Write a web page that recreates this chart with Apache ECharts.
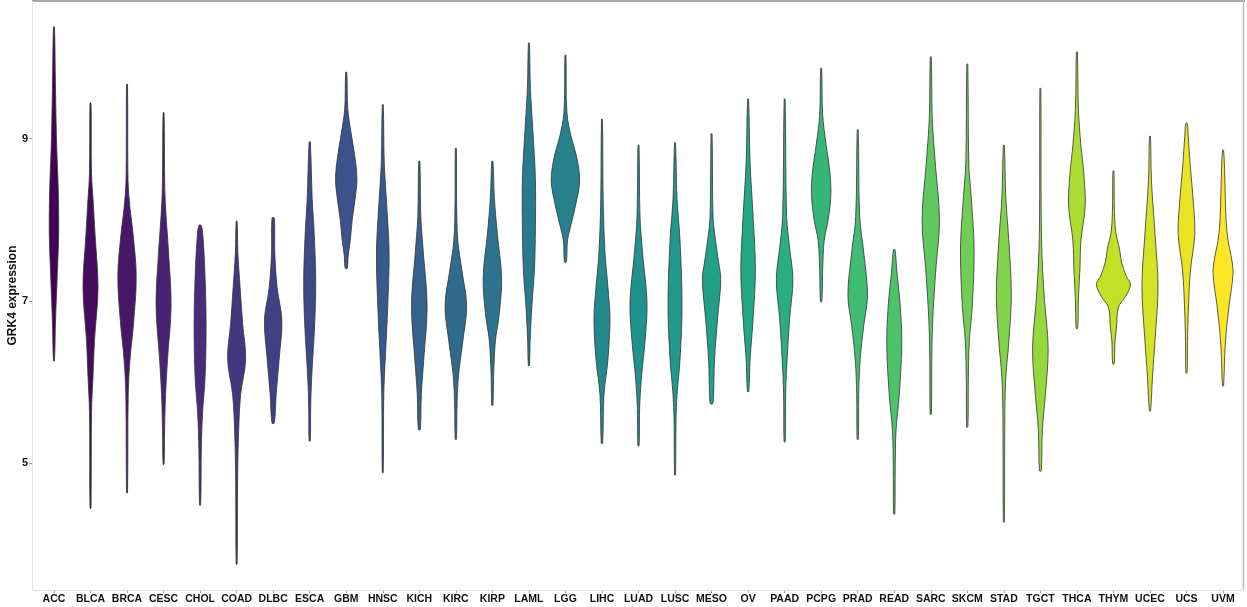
<!DOCTYPE html>
<html>
<head>
<meta charset="utf-8">
<script src="https://cdn.jsdelivr.net/npm/echarts@6/dist/echarts.min.js"></script>
<style>html,body{margin:0;padding:0;background:#fff}#c{width:1247px;height:607px}</style>
</head>
<body>
<div id="c"></div>
<script>
const categories = ['ACC','BLCA','BRCA','CESC','CHOL','COAD','DLBC','ESCA','GBM','HNSC','KICH','KIRC','KIRP','LAML','LGG','LIHC','LUAD','LUSC','MESO','OV','PAAD','PCPG','PRAD','READ','SARC','SKCM','STAD','TGCT','THCA','THYM','UCEC','UCS','UVM'];
const yTicks = [5, 7, 9];
// density profiles: [expression value, relative density (half-width)]
const profiles = [
  [[6.26,0.5],[6.73,1.5],[7.38,3.5],[7.83,4.7],[8.25,4.5],[8.48,4],[9.0,2.5],[9.8,1.3],[10.38,0.5]],
  [[4.44,0.5],[5.62,1],[6.06,2.5],[6.51,4],[7.16,7.5],[7.83,4.5],[8.26,2.5],[8.57,1],[9.44,0.5]],
  [[4.63,0.5],[5.84,1.2],[6.28,3],[6.72,6.5],[7.30,9.2],[7.83,6],[8.14,3],[8.48,1],[9.67,0.5]],
  [[4.98,0.5],[5.39,1],[5.84,2],[6.28,4],[6.94,7.5],[7.6,5],[8.05,2.5],[8.4,1.2],[9.32,0.5]],
  [[4.48,0.6],[5.17,1.2],[5.62,2.5],[6.06,5],[6.72,6],[7.38,4.7],[7.8,2.8],[7.93,1.2]],
  [[3.75,0.5],[4.83,1],[5.39,2],[5.84,4],[6.28,9],[6.72,6],[7.16,3.5],[7.6,1.2],[7.98,0.5]],
  [[5.49,1.2],[5.84,3],[6.28,6],[6.76,8.7],[7.16,4],[7.6,1.6],[8.02,1.2]],
  [[5.27,0.6],[5.7,1],[6.06,2],[6.72,5],[7.25,6],[7.83,4.5],[8.26,2.5],[8.96,0.6]],
  [[7.40,1],[7.56,2],[7.74,4],[8.0,6],[8.27,9],[8.51,10.7],[8.79,8.5],[9.06,5],[9.37,1.5],[9.82,0.6]],
  [[4.88,0.5],[5.84,1],[6.28,2.5],[6.94,5],[7.6,6.3],[8.17,4],[8.7,1.5],[9.42,0.5]],
  [[5.41,1],[5.84,2],[6.28,4.5],[6.94,7.8],[7.6,4],[8.04,1.5],[8.72,0.6]],
  [[5.29,0.6],[5.71,1.2],[6.06,2.5],[6.5,7],[6.94,10.8],[7.38,6],[7.74,2],[8.2,0.8],[8.88,0.5]],
  [[5.71,0.6],[6.06,1.2],[6.5,3],[6.85,7],[7.29,9.2],[7.82,5],[8.27,2],[8.72,0.6]],
  [[6.20,0.6],[6.5,1.2],[6.94,3],[7.38,5.5],[7.9,6.5],[8.5,6.5],[9.09,4],[9.62,1.5],[10.18,0.5]],
  [[7.48,1],[7.74,2],[7.91,5],[8.17,10],[8.48,14.2],[8.79,11],[9.01,6],[9.32,1.5],[10.03,0.5]],
  [[5.24,0.7],[5.84,2],[6.28,6],[6.78,8],[7.16,6],[7.6,3],[8.26,1.2],[9.24,0.5]],
  [[5.21,0.6],[5.71,1.2],[6.06,3],[6.5,6.5],[6.98,8.5],[7.6,4],[8.04,1.5],[8.92,0.5]],
  [[4.85,0.5],[5.53,1],[5.84,2],[6.28,5],[6.94,7],[7.74,5],[8.26,2],[8.95,0.5]],
  [[5.73,1.2],[5.84,2],[6.28,3],[6.78,6],[7.26,9.2],[7.48,7],[7.74,4],[8.04,1.5],[9.06,0.5]],
  [[5.88,0.7],[6.28,2],[6.78,5],[7.38,7.3],[8.04,5],[8.7,2],[9.49,0.5]],
  [[5.26,0.6],[5.84,1],[6.28,2.5],[6.78,5],[7.26,8.3],[7.65,5],[8.04,2],[9.49,0.5]],
  [[6.99,0.7],[7.38,1.5],[7.74,3],[8.0,7],[8.31,9.7],[8.61,8.5],[8.92,5],[9.30,1.5],[9.87,0.5]],
  [[5.29,0.6],[5.84,1],[6.28,2.5],[6.69,6],[7.07,9.8],[7.6,6],[8.04,2],[9.11,0.5]],
  [[4.37,0.6],[4.96,1],[5.40,1.8],[5.84,5],[6.46,7.5],[6.94,6],[7.38,2.5],[7.63,0.8]],
  [[5.60,0.6],[6.3,1],[6.78,2],[7.38,5],[8.0,8.7],[8.7,4.5],[9.25,1.5],[10.01,0.5]],
  [[5.44,0.6],[6.0,1],[6.5,2],[6.94,5],[7.65,6.8],[8.26,4],[8.7,1.5],[9.92,0.5]],
  [[4.27,0.5],[5.62,1],[6.06,2],[6.5,5],[7.07,7.5],[7.74,5],[8.26,2],[8.92,0.5]],
  [[4.90,0.9],[5.40,2],[5.84,5],[6.41,7.8],[7.03,4],[7.6,1.5],[8.3,0.7],[9.62,0.5]],
  [[6.66,0.8],[7.03,1.5],[7.38,3],[7.74,4],[8.17,8.3],[8.56,7],[8.92,4],[9.36,1.5],[10.07,0.5]],
  [[6.22,0.8],[6.5,1.5],[6.66,3],[6.92,5],[7.05,12],[7.20,17],[7.30,13],[7.48,8],[7.65,6],[7.83,2.5],[8.1,1],[8.60,0.5]],
  [[5.64,0.6],[6.06,2.5],[6.5,5],[7.18,8],[7.83,5],[8.48,1.5],[9.03,0.5]],
  [[6.11,0.6],[6.5,1],[6.94,2],[7.38,4],[7.83,8.3],[8.27,6.5],[8.63,4],[9.07,1.5],[9.19,0.8]],
  [[5.95,0.6],[6.28,1.5],[6.59,3],[6.94,6],[7.34,10],[7.56,8],[7.74,5],[8.0,3],[8.63,1.5],[8.86,0.5]]
];

// viridis colour ramp (style)
const viridisStops = ['#440154','#482475','#414487','#355f8d','#2a788e','#21918c','#22a884','#44bf70','#7ad151','#bddf26','#fde725'];
function hex(h){return [parseInt(h.substr(1,2),16),parseInt(h.substr(3,2),16),parseInt(h.substr(5,2),16)];}
function viridis(t){
  const p = t*(viridisStops.length-1); const i = Math.min(Math.floor(p), viridisStops.length-2); const f = p-i;
  const a = hex(viridisStops[i]), b = hex(viridisStops[i+1]);
  return 'rgb(' + a.map((v,k)=>Math.round(v+(b[k]-v)*f)).join(',') + ')';
}

const chart = echarts.init(document.getElementById('c'), null, {renderer:'canvas'});
const REF_BAND = 36.53;
const font = 'Liberation Sans, Arial, sans-serif';
chart.setOption({
  animation: false,
  grid: {left: 35.7, right: 5.7, top: 1, bottom: 17, show: false, outerBoundsMode: 'none', containLabel: false},
  graphic: [
    {type: 'line', silent: true, z: 10, shape: {x1: 32, y1: 1, x2: 1245, y2: 1}, style: {stroke: '#a8a8a8', lineWidth: 2}},
    {type: 'line', silent: true, z: 10, shape: {x1: 1243.5, y1: 0, x2: 1243.5, y2: 590}, style: {stroke: '#bdbdbd', lineWidth: 1.5}},
    {type: 'line', silent: true, z: 10, shape: {x1: 32.5, y1: 1, x2: 32.5, y2: 590}, style: {stroke: '#e6e6e6', lineWidth: 1}},
    {type: 'line', silent: true, z: 10, shape: {x1: 32, y1: 590.5, x2: 1243, y2: 590.5}, style: {stroke: '#e0e0e0', lineWidth: 1}}
  ],
  xAxis: {
    type: 'category', data: categories,
    axisLine: {show: false},
    axisTick: {show: true, alignWithLabel: true, length: 3, lineStyle: {color: '#999'}},
    axisLabel: {color: '#111', fontWeight: 'bold', fontSize: 10.5, fontFamily: font, margin: 4, interval: 0}
  },
  yAxis: {
    type: 'value', min: 3.43, max: 10.70, offset: 3.5,
    name: 'GRK4 expression', nameLocation: 'middle', nameGap: 14, nameMoveOverlap: false,
    nameTextStyle: {color: '#111', fontWeight: 'bold', fontSize: 12, fontFamily: font},
    axisLine: {show: false},
    axisTick: {show: true, length: 3, lineStyle: {color: '#999'}, customValues: yTicks},
    axisLabel: {color: '#111', fontWeight: 'bold', fontSize: 11, fontFamily: font, margin: 4, customValues: yTicks},
    splitLine: {show: false}
  },
  series: [{
    type: 'custom',
    data: categories.map((c, i) => [i]),
    renderItem: function (params, api) {
      const idx = api.value(0);
      const prof = profiles[idx];
      const scale = api.size([1, 0])[0] / REF_BAND;
      const right = [], left = [];
      for (let k = 0; k < prof.length; k++) {
        const p = api.coord([idx, prof[k][0]]);
        const w = prof[k][1] * scale;
        right.push([p[0] + w, p[1]]);
        left.push([p[0] - w, p[1]]);
      }
      const pts = right.concat(left.reverse());
      return {
        type: 'polygon',
        shape: {points: pts, smooth: 0.35},
        style: {fill: viridis(idx / (categories.length - 1)), stroke: '#333', lineWidth: 0.8}
      };
    }
  }]
});
</script>
</body>
</html>
